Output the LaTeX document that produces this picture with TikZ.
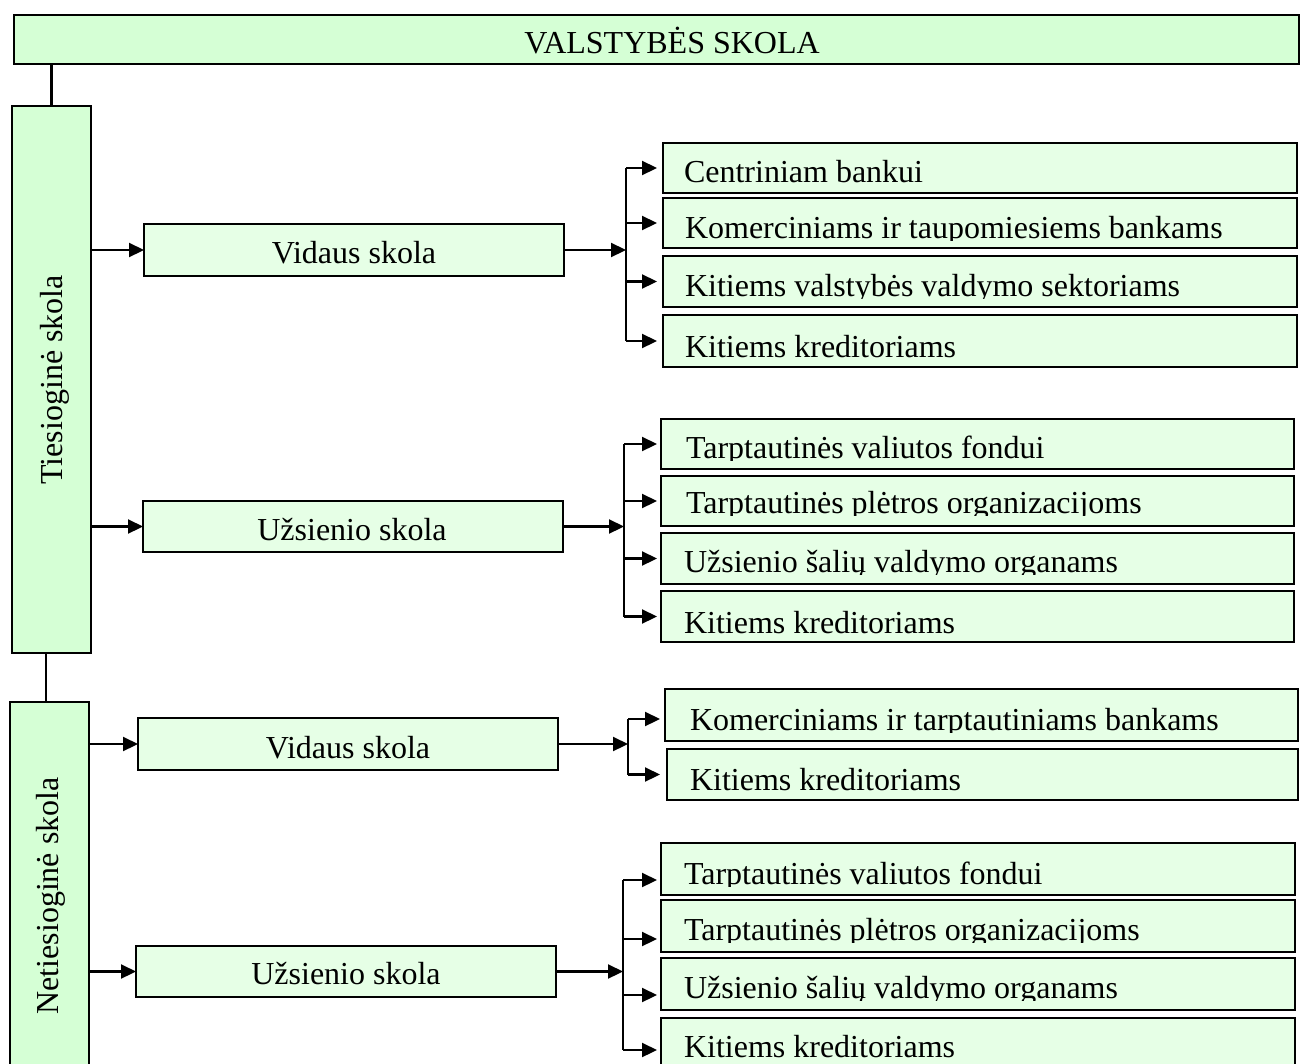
\documentclass[tikz,border=0pt]{standalone}
\usepackage{fontspec}
\setmainfont{Liberation Serif}
\usetikzlibrary{arrows.meta,calc}

\definecolor{greenA}{HTML}{D5FFD5}
\definecolor{greenB}{HTML}{E6FFE6}

\tikzset{
  box/.style={draw=black, line width=2.2pt, inner sep=0pt, outer sep=0pt},
  headbox/.style={box, fill=greenA, line width=2.8pt},
  sidebox/.style={box, fill=greenA},
  midbox/.style={box, fill=greenB},
  leafbox/.style={box, fill=greenB},
  txt/.style={inner sep=0pt, outer sep=0pt, font=\fontsize{32}{38}\selectfont},
  link/.style={line width=2.2pt},
  arr/.style={line width=2.2pt, -{Triangle[length=15pt,width=14pt]}},
}

% a box given by its left, top, right and bottom edges
\newcommand\mkbox[6]{%
  \node[#2, anchor=north west, minimum width={(#5)-(#3)}, minimum height={(#6)-(#4)}] (#1) at (#3,#4) {};}
% left-aligned text on a baseline; its frame cuts it off just below the baseline
\newcommand\mktext[4]{%
  \begin{scope}
    \clip (#1.north west) rectangle ($(#1.east |- 0,#3)+(0,2.5)$);
    \node[txt, anchor=base west] (#1-t) at (#2,#3) {#4};
  \end{scope}}

\begin{document}
\begin{tikzpicture}[x=1pt,y=-1pt]
\useasboundingbox (0,0) rectangle (1301,1063);

% heading
\mkbox{head}{headbox}{14}{15}{1299}{64}
\node[txt, anchor=base] (head-t) at (672,53) {VALSTYBĖS SKOLA};

% direct and indirect debt columns
\mkbox{tie}{sidebox}{12}{106}{91}{653}
\node[txt, rotate=90] (tie-t) at (55,380) {Tiesioginė skola};
\mkbox{net}{sidebox}{10}{702}{89}{1075}
\node[txt, rotate=90] (net-t) at (51,896) {Netiesioginė skola};

\draw[link] (tie.north) -- (tie.north |- head.south);
\draw[link] ([xshift=-5.5pt]tie.south) -- ([xshift=-5.5pt]tie.south |- net.north);

% second level
\mkbox{v1}{midbox}{144}{224}{564}{276}
\node[txt, anchor=base] (v1-t) at (354,263) {Vidaus skola};
\mkbox{u1}{midbox}{143}{501}{563}{552}
\node[txt, anchor=base] (u1-t) at (352,540) {Užsienio skola};
\mkbox{v2}{midbox}{138}{718}{558}{770}
\node[txt, anchor=base] (v2-t) at (348,758) {Vidaus skola};
\mkbox{u2}{midbox}{136}{946}{556}{997}
\node[txt, anchor=base] (u2-t) at (346,984) {Užsienio skola};

\draw[arr] (tie.east |- v1.west) -- (v1.west);
\draw[arr] (tie.east |- u1.west) -- (u1.west);
\draw[arr] (net.east |- v2.west) -- (v2.west);
\draw[arr] (net.east |- u2.west) -- (u2.west);

% leaves: domestic direct debt
\mkbox{a1}{leafbox}{663}{143}{1297}{193}
\mktext{a1}{684}{182}{Centriniam bankui}
\mkbox{a2}{leafbox}{663}{198}{1297}{248}
\mktext{a2}{685}{238}{Komerciniams ir taupomiesiems bankams}
\mkbox{a3}{leafbox}{663}{256}{1297}{307}
\mktext{a3}{685}{296}{Kitiems valstybės valdymo sektoriams}
\mkbox{a4}{leafbox}{663}{315}{1297}{367}
\mktext{a4}{685}{357}{Kitiems kreditoriams}

% leaves: foreign direct debt
\mkbox{b1}{leafbox}{661}{419}{1294}{469}
\mktext{b1}{686}{458}{Tarptautinės valiutos fondui}
\mkbox{b2}{leafbox}{661}{476}{1294}{526}
\mktext{b2}{686}{513}{Tarptautinės plėtros organizacijoms}
\mkbox{b3}{leafbox}{661}{533}{1294}{584}
\mktext{b3}{684}{572}{Užsienio šalių valdymo organams}
\mkbox{b4}{leafbox}{661}{591}{1294}{642}
\mktext{b4}{684}{633}{Kitiems kreditoriams}

% leaves: domestic indirect debt
\mkbox{c1}{leafbox}{665}{689}{1298}{741}
\mktext{c1}{690}{730}{Komerciniams ir tarptautiniams bankams}
\mkbox{c2}{leafbox}{667}{749}{1298}{800}
\mktext{c2}{690}{790}{Kitiems kreditoriams}

% leaves: foreign indirect debt
\mkbox{d1}{leafbox}{661}{843}{1295}{895}
\mktext{d1}{684}{884}{Tarptautinės valiutos fondui}
\mkbox{d2}{leafbox}{661}{900}{1295}{952}
\mktext{d2}{684}{940}{Tarptautinės plėtros organizacijoms}
\mkbox{d3}{leafbox}{661}{958}{1295}{1010}
\mktext{d3}{684}{998}{Užsienio šalių valdymo organams}
\mkbox{d4}{leafbox}{661}{1018}{1295}{1080}
\mktext{d4}{684}{1057}{Kitiems kreditoriams}

% fork points
\coordinate (fa) at (626,250);
\coordinate (fb) at (624,526);
\coordinate (fc) at (628,742);
\coordinate (fd) at (623,975);

\draw[arr] (v1.east) -- (v1.east -| fa);
\draw[arr] (u1.east) -- (u1.east -| fb);
\draw[arr] (v2.east) -- (v2.east -| fc);
\draw[arr] (u2.east) -- (u2.east -| fd);

% vertical spines of the forks
\draw[link] (a1.west -| fa) -- (a4.west -| fa);
\draw[link] (b1.west -| fb) -- (b4.west -| fb);
\draw[link] ([yshift=-4pt]c1.west -| fc) -- (c2.west -| fc);
\draw[link] ([yshift=-11pt]d1.west -| fd) -- ([yshift=-1pt]d4.west -| fd);

% branch arrows
\foreach \n in {a1,a2,a3,a4}
  \draw[arr] (\n.west -| fa) -- ([xshift=-6pt]\n.west);
\foreach \n in {b1,b2,b3,b4}
  \draw[arr] (\n.west -| fb) -- ([xshift=-4pt]\n.west);
\draw[arr] ([yshift=-4pt]c1.west -| fc) -- ([xshift=-5pt,yshift=-4pt]c1.west);
\draw[arr] (c2.west -| fc) -- ([xshift=-7pt]c2.west);
\foreach \n/\s in {d1/11,d2/13,d3/11,d4/1}
  \draw[arr] ([yshift=-\s pt]\n.west -| fd) -- ([xshift=-4pt,yshift=-\s pt]\n.west);
\end{tikzpicture}
\end{document}
